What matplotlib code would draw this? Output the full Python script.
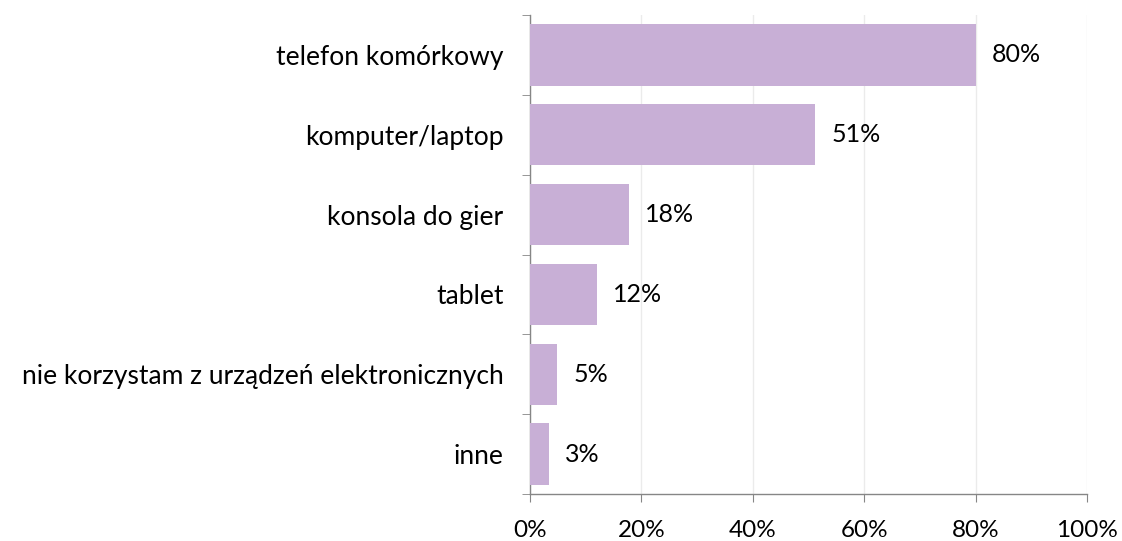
import matplotlib
matplotlib.use("Agg")
import matplotlib.pyplot as plt
import numpy as np

categories = ["telefon komórkowy", "komputer/laptop", "konsola do gier", "tablet",
              "nie korzystam z urządzeń elektronicznych", "inne"]
values = [80.0, 51.2, 17.7, 12.1, 4.9, 3.4]
xticks = [0, 20, 40, 60, 80, 100]
xtick_labels = ["0%", "20%", "40%", "60%", "80%", "100%"]

plt.rcParams['font.family'] = ['Lato', 'DejaVu Sans']

fig = plt.figure(figsize=(11.22, 5.41), dpi=100)
ax = fig.add_axes([530/1122, 1-494/541, (1087-530)/1122, (494-15)/541])

n = len(categories)
y = np.arange(n)[::-1]
ax.barh(y, values, height=0.77, color="#C8AFD6", zorder=3)
for yi, v in zip(y, values):
    ax.annotate(f"{round(v):.0f}%", xy=(v, yi), xytext=(11.5, 0), textcoords="offset points",
                va="center", ha="left", fontsize=18, color="black")

ax.set_xlim(0, 100)
ax.set_ylim(-0.5, n - 0.5)
ax.set_xticks(xticks)
ax.set_xticklabels(xtick_labels, fontsize=17.5)
ax.set_yticks(y)
ax.set_yticklabels(categories, fontsize=19)
ax.tick_params(axis="y", which="major", length=0, pad=19)
ax.set_yticks(np.arange(-0.5, n, 1.0), minor=True)
ax.tick_params(axis="y", which="minor", length=6, color="#868686", direction="out")
ax.tick_params(axis="x", which="major", length=6, color="#868686", pad=13, direction="out")
ax.grid(axis="x", color="#EBEBEB", linewidth=1, zorder=0)
for s in ["top", "right"]:
    ax.spines[s].set_visible(False)
for s in ["left", "bottom"]:
    ax.spines[s].set_color("#868686")
    ax.spines[s].set_linewidth(1)

fig.savefig("out.png", dpi=100)
